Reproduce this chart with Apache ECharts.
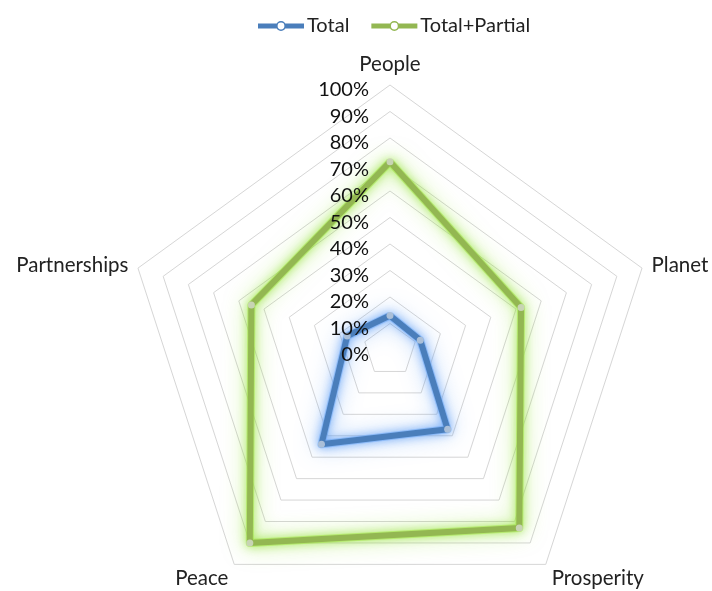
<!DOCTYPE html>
<html>
<head>
<meta charset="utf-8">
<script src="https://cdn.jsdelivr.net/npm/echarts@6/dist/echarts.min.js"></script>
<style>html,body{margin:0;padding:0;background:#fff}#c{width:712px;height:591px}</style>
</head>
<body>
<div id="c"></div>
<script>
// Categories in the order they appear clockwise from the top
const categories = ['People', 'Planet', 'Prosperity', 'Peace', 'Partnerships'];
const totalValues = [13, 12, 37, 44, 17];
const totalPartialValues = [71, 52, 83, 90, 55];
const seriesNames = ['Total', 'Total+Partial'];
const seriesColors = ['#4a7ebb', '#93b752'];
const axisMax = 100;
const axisSplits = 10;

// ECharts places radar indicators counter-clockwise; reorder so the picture goes clockwise
const order = [0, 4, 3, 2, 1];
const reorder = arr => order.map(i => arr[i]);

const FONT = 'Lato';
const gridIndicators = reorder(categories).map(name => ({ name: name, min: 0, max: axisMax }));
const labelIndicators = reorder(categories).map((name, i) => {
  const ind = { name: name, min: 0, max: axisMax };
  if (i === 0) ind.axisLabel = { show: true };
  return ind;
});

// legend icon: thick line with a pale round marker in the middle
const legendIcon = 'path://M0,2.5 H19 V7.5 H0 Z M27,2.5 H46 V7.5 H27 Z ' +
  'M18,5 A5,5 0 1,1 28,5 A5,5 0 1,1 18,5 Z ' +
  'M19.6,5 A3.4,3.4 0 1,0 26.4,5 A3.4,3.4 0 1,0 19.6,5 Z';

const glow = (name, values, color, shadow) => ({
  name: name,
  value: reorder(values),
  symbol: 'none',
  silent: true,
  lineStyle: { color: color, width: 8, shadowBlur: 22, shadowColor: shadow }
});
const main = (name, values, color, marker, glowColor) => ({
  name: name,
  value: reorder(values),
  lineStyle: { color: color, width: 6, shadowBlur: 10, shadowColor: glowColor },
  itemStyle: { color: marker }
});

const common = {
  center: [390, 350],
  radius: 265,
  startAngle: 90,
  shape: 'polygon',
  splitNumber: axisSplits,
  axisLine: { show: false },
  axisTick: { show: false },
  splitArea: { show: false }
};

const chart = echarts.init(document.getElementById('c'), null, { renderer: 'canvas' });
chart.setOption({
  animation: false,
  backgroundColor: '#fff',
  legend: {
    top: 11,
    left: 253,
    itemWidth: 46,
    itemHeight: 10,
    itemGap: 22,
    textStyle: { fontFamily: FONT, fontSize: 20, color: '#222', padding: [0, 0, 0, -2] },
    data: seriesNames.map((n, i) => ({ name: n, icon: legendIcon, itemStyle: { color: seriesColors[i] } }))
  },
  radar: [
    Object.assign({}, common, {
      z: 1,
      nameGap: 10,
      axisName: {
        color: '#222', fontFamily: FONT, fontSize: 20.5,
        formatter: n => (n === 'Peace' || n === 'Prosperity') ? '{low|' + n + '}' : n,
        rich: { low: { color: '#222', fontFamily: FONT, fontSize: 20.5, padding: [12, 0, 0, 0] } }
      },
      splitLine: { lineStyle: { color: '#d6d6d6', width: 1 } },
      axisLabel: { show: false },
      indicator: gridIndicators
    }),
    Object.assign({}, common, {
      z: 5,
      axisName: { show: false },
      splitLine: { show: false },
      axisLabel: {
        show: false,
        color: '#111',
        fontFamily: FONT,
        fontSize: 20,
        margin: 21,
        formatter: v => '{p|' + v + '%}',
        rich: { p: { color: '#111', fontFamily: FONT, fontSize: 20, padding: [10, 0, 0, 0] } }
      },
      indicator: labelIndicators
    })
  ],
  series: [{
    type: 'radar',
    radarIndex: 0,
    z: 2,
    symbol: 'circle',
    symbolSize: 7,
    data: [
      glow(seriesNames[0], totalValues, 'rgba(130,180,245,0.55)', 'rgba(90,155,245,1)'),
      glow(seriesNames[1], totalPartialValues, 'rgba(170,230,80,0.55)', 'rgba(140,225,40,1)'),
      main(seriesNames[0], totalValues, seriesColors[0], '#aabfd8', 'rgba(80,150,245,0.9)'),
      main(seriesNames[1], totalPartialValues, seriesColors[1], '#c8d4b4', 'rgba(145,225,50,0.9)')
    ]
  }]
});
</script>
</body>
</html>
